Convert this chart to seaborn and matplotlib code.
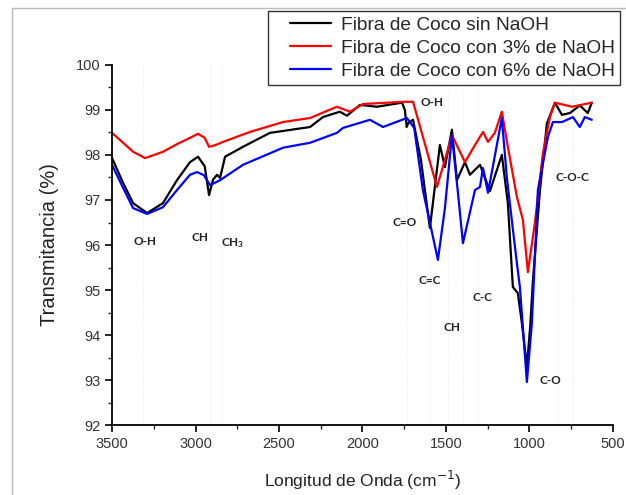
import numpy as np
import pandas as pd
import matplotlib
matplotlib.use("Agg")
import matplotlib.pyplot as plt
from matplotlib.ticker import MultipleLocator
from matplotlib.lines import Line2D
from matplotlib.legend_handler import HandlerLine2D
import seaborn as sns

# ---------------------------------------------------------
# datos leidos del espectro FTIR
# ---------------------------------------------------------
wn_sin = [3500, 3434, 3374, 3290, 3195, 3111, 3033, 2985, 2945, 2919, 2895, 2871, 2853, 2823,
          2716, 2554, 2314, 2237, 2135, 2093, 2015, 1913, 1763, 1746, 1735, 1727, 1697,
          1650, 1596, 1536, 1506, 1464, 1434, 1386, 1356, 1296, 1236, 1165, 1129, 1099,
          1069, 1045, 1015, 995, 979, 937, 895, 847, 805, 757, 698, 650, 626]
t_sin = [97.93, 97.38, 96.93, 96.71, 96.93, 97.44, 97.84, 97.96, 97.75, 97.11, 97.45, 97.56,
         97.49, 97.96, 98.18, 98.49, 98.62, 98.84, 98.96, 98.87, 99.11, 99.07, 99.16, 99.0,
         98.62, 98.7, 98.78, 97.9, 96.38, 98.22, 97.73, 98.56, 97.44, 97.84, 97.56, 97.78,
         97.2, 98.0, 96.93, 95.07, 94.93, 94.27, 93.3, 94.2, 95.2, 97.2, 98.7, 99.16, 98.89,
         98.93, 99.1, 98.93, 99.16]

wn_3 = [3500, 3434, 3374, 3302, 3195, 3111, 3033, 2985, 2945, 2919, 2880, 2835, 2674, 2476,
        2314, 2153, 2075, 1997, 1757, 1697, 1630, 1554, 1506, 1464, 1386, 1326, 1278, 1248,
        1207, 1165, 1129, 1075, 1039, 1009, 967, 919, 877, 847, 745, 626]
t_3 = [98.49, 98.27, 98.07, 97.93, 98.07, 98.24, 98.38, 98.47, 98.38, 98.18, 98.22, 98.29,
       98.51, 98.73, 98.82, 99.07, 98.96, 99.13, 99.18, 99.18, 98.3, 97.29, 97.89, 98.44,
       97.84, 98.22, 98.51, 98.29, 98.49, 98.96, 98.18, 97.07, 96.56, 95.4, 96.49, 98.04,
       98.84, 99.16, 99.07, 99.16]

wn_6 = [3500, 3434, 3374, 3290, 3195, 3111, 3033, 2991, 2950, 2913, 2853, 2716, 2476, 2314,
        2153, 2117, 1955, 1877, 1734, 1690, 1638, 1548, 1506, 1464, 1428, 1398, 1326, 1296,
        1278, 1248, 1165, 1135, 1075, 1057, 1015, 985, 949, 889, 859, 805, 739, 698, 668, 626]
t_6 = [97.78, 97.27, 96.82, 96.69, 96.84, 97.22, 97.56, 97.62, 97.55, 97.33, 97.44, 97.78,
       98.16, 98.27, 98.49, 98.6, 98.78, 98.62, 98.82, 98.6, 97.22, 95.67, 96.82, 98.44,
       97.16, 96.04, 97.22, 97.29, 97.71, 97.16, 98.82, 97.49, 95.6, 95.07, 92.96, 94.27,
       97.22, 98.4, 98.73, 98.73, 98.84, 98.62, 98.84, 98.78]

series = ['Fibra de Coco sin NaOH', 'Fibra de Coco con 3% de NaOH', 'Fibra de Coco con 6% de NaOH']
colores = ['black', 'red', 'blue']

# bandas asignadas (posicion del texto en coordenadas de datos)
bandas = ['O-H', 'CH', r'$\mathrm{CH_3}$', 'O-H', 'C=O', 'C=C', 'C-C', 'CH', 'C-O', 'C-O-C']
bandas_x = [3302, 2973, 2775, 1584, 1746, 1596, 1278, 1464, 877, 745]
bandas_y = [96.07, 96.16, 96.04, 99.16, 96.51, 95.22, 94.84, 94.16, 93.0, 97.51]

# lineas guia tenues
guias = [3314, 2913, 2841, 1734, 1596, 1488, 1398, 1308, 829, 739]

df = pd.concat([
    pd.DataFrame({'x': wn_sin, 'y': t_sin, 'muestra': series[0]}),
    pd.DataFrame({'x': wn_3, 'y': t_3, 'muestra': series[1]}),
    pd.DataFrame({'x': wn_6, 'y': t_6, 'muestra': series[2]}),
], ignore_index=True)

# ---------------------------------------------------------
# grafico
# ---------------------------------------------------------
sns.set_style('ticks')
plt.rcParams['font.family'] = ['Liberation Sans', 'DejaVu Sans']
plt.rcParams['mathtext.fontset'] = 'custom'
plt.rcParams['mathtext.rm'] = 'Lato:bold'

fig = plt.figure(figsize=(6.26, 4.95), dpi=100)
ax = fig.add_axes([0.179, 0.141, 0.8, 0.728])

for g in guias:
    ax.axvline(g, color='#e6e6e6', lw=0.7, ls=':', zorder=0)

sns.lineplot(data=df, x='x', y='y', hue='muestra', palette=colores, hue_order=series,
             sort=False, estimator=None, lw=1.6, ax=ax)

for txt, bx, by in zip(bandas, bandas_x, bandas_y):
    ax.text(bx, by, txt, ha='center', va='center', fontsize=8.5, fontweight='bold',
            family='Lato', color='#222222')

ax.set_xlim(3500, 500)
ax.set_ylim(92, 100)
ax.xaxis.set_major_locator(MultipleLocator(500))
ax.xaxis.set_minor_locator(MultipleLocator(250))
ax.yaxis.set_major_locator(MultipleLocator(1))
ax.yaxis.set_minor_locator(MultipleLocator(0.5))
ax.tick_params(which='major', direction='out', length=5, width=1.2, labelsize=10.5,
               colors='black', labelcolor='#333333')
ax.tick_params(which='minor', direction='out', length=3, width=1.0)
sns.despine(ax=ax)
for s in ['left', 'bottom']:
    ax.spines[s].set_linewidth(1.3)
    ax.spines[s].set_color('black')

ax.set_xlabel('Longitud de Onda (cm$^{-1}$)', fontsize=12.5, color='#222222', labelpad=13)
ax.set_ylabel('Transmitancia (%)', fontsize=14.5, color='#222222', labelpad=12)
ax.xaxis.label.set_math_fontfamily('dejavusans')

h, l = ax.get_legend_handles_labels()
ax.get_legend().remove()
fig.legend(h, l, loc='upper right', bbox_to_anchor=(0.991, 0.978), fontsize=13.8,
           frameon=True, fancybox=False, edgecolor='#333333', framealpha=1,
           handlelength=3.0, borderpad=0.3, labelspacing=0.28, handletextpad=0.5,
           borderaxespad=0, handler_map={Line2D: HandlerLine2D(xpad=0.85)})

# marco gris de la imagen
fig.add_artist(Line2D([0.019, 0.019], [0, 0.984], transform=fig.transFigure, color='#bbbbbb', lw=1))
fig.add_artist(Line2D([0.019, 1], [0.984, 0.984], transform=fig.transFigure, color='#bbbbbb', lw=1))

fig.savefig('out.png', dpi=100)
